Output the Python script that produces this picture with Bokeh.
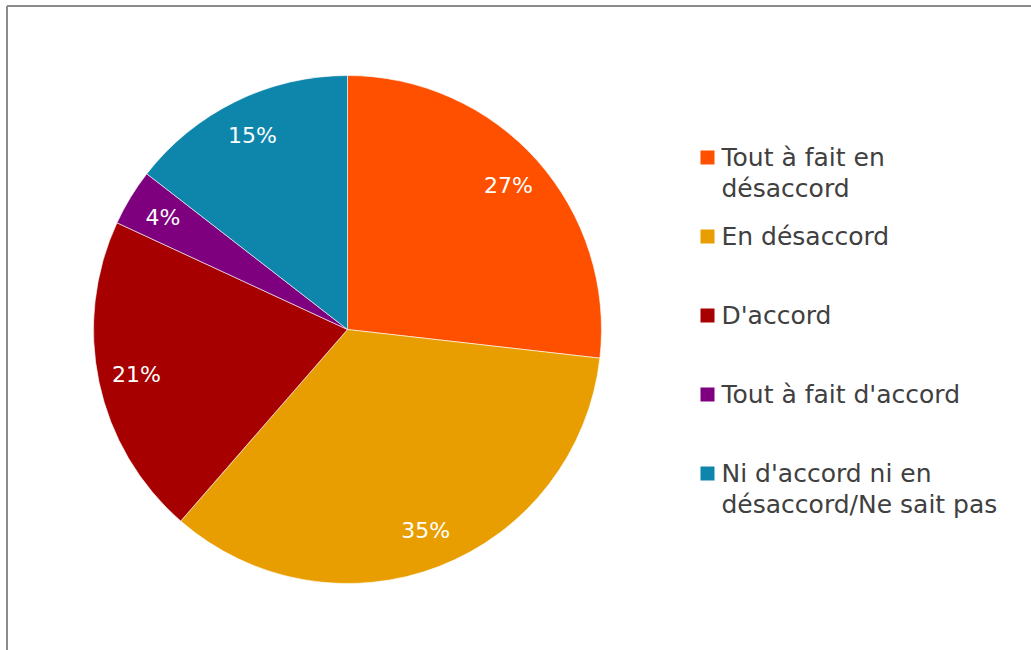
import math
from bokeh.plotting import figure
from bokeh.models import Range1d, ColumnDataSource
from bokeh.core.properties import value
from bokeh.embed import file_html
from bokeh.resources import INLINE

# ---- data ----
categories = [
    "Tout à fait en\ndésaccord",
    "En désaccord",
    "D'accord",
    "Tout à fait d'accord",
    "Ni d'accord ni en\ndésaccord/Ne sait pas",
]
shares = [26.8, 34.6, 20.5, 3.6, 14.5]
pct_labels = ["27%", "35%", "21%", "4%", "15%"]
colors = ["#FF5000", "#E89E00", "#A60000", "#7E007E", "#0E86AC"]

# ---- layout ----
W, H = 1031, 650
CX, CY, R = 347, 321, 254
LABEL_R = 0.85 * R
FONT = "DejaVu Sans"

p = figure(width=W, height=H, output_backend="svg", toolbar_location=None,
           x_range=Range1d(0, W), y_range=Range1d(0, H), min_border=0,
           border_fill_color="white", outline_line_color=None)
p.axis.visible = False
p.grid.visible = False
p.background_fill_color = "white"

# frame border: left and top edges only
p.segment(x0=[6.5, 6.5], y0=[0, H - 5.5], x1=[6.5, W], y1=[H - 5.5, H - 5.5],
          line_color="#8C8C8C", line_width=2)

total = sum(shares)
starts, ends, lx, ly = [], [], [], []
acc = 0.0
for s in shares:
    a0 = math.pi / 2 - acc / total * 2 * math.pi
    acc += s
    a1 = math.pi / 2 - acc / total * 2 * math.pi
    starts.append(a0)
    ends.append(a1)
    mid = (a0 + a1) / 2
    lx.append(CX + LABEL_R * math.cos(mid))
    ly.append(CY + LABEL_R * math.sin(mid))

src = ColumnDataSource(dict(start=starts, end=ends, color=colors,
                            lx=lx, ly=ly, lab=pct_labels))
p.wedge(x=CX, y=CY, radius=R, start_angle="start", end_angle="end",
        direction="clock", fill_color="color", line_color="white",
        line_width=0.6, source=src)
p.text(x="lx", y="ly", text="lab", source=src, text_color="white",
       text_font=value(FONT), text_font_size="22px",
       text_align="center", text_baseline="middle")

# ---- legend ----
LX_SQ, LX_TXT, LY0, STEP, LINE_H = 707, 721, 493, 79, 31
sq_x, sq_y, tx, ty, tt = [], [], [], [], []
for i, cat in enumerate(categories):
    y0 = LY0 - i * STEP
    sq_x.append(LX_SQ)
    sq_y.append(y0)
    for j, line in enumerate(cat.split("\n")):
        tx.append(LX_TXT)
        ty.append(y0 - j * LINE_H)
        tt.append(line)
p.scatter(x=sq_x, y=sq_y, marker="square", size=14, fill_color=colors,
          line_color=None)
p.text(x=tx, y=ty, text=tt, text_color="#404040", text_font=value(FONT),
       text_font_size="25px", text_align="left", text_baseline="middle")

open("out.html", "w").write(file_html(p, INLINE))
